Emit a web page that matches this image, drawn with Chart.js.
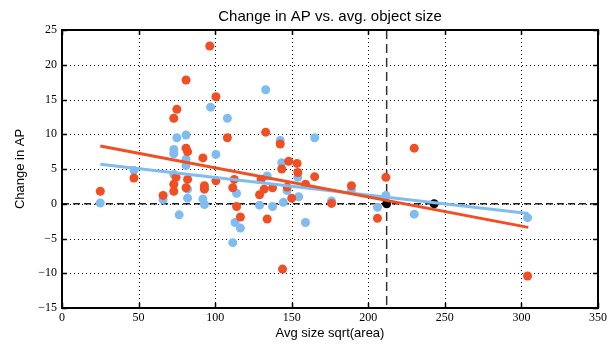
<!DOCTYPE html>
<html>
<head>
<meta charset="utf-8">
<script src="https://cdn.jsdelivr.net/npm/chart.js@4.4.0/dist/chart.umd.min.js"></script>
<style>
  html, body { margin: 0; padding: 0; background: #fff; }
</style>
</head>
<body>
<canvas id="chart" width="610" height="349"></canvas>
<script>
// values
const redPoints = [
  [25, 1.8], [47, 3.7], [66, 1.2], [73, 1.8], [73, 2.8], [74.5, 3.8], [73, 12.3], [75, 13.6],
  [81, 17.8], [81, 8.0], [82, 7.5], [81, 2.3], [82, 3.5], [92, 6.6], [96.5, 22.7], [100.5, 15.4],
  [108, 9.5], [93, 2.6], [93, 2.1], [100.5, 3.3], [111.5, 2.3], [112.5, 3.5], [114, -0.4],
  [116.5, -1.9], [129, 1.3], [132, 2.1], [130, 3.5], [133, 10.3], [134, -2.2], [137.5, 2.3],
  [142.5, 8.6], [143.5, 5.0], [144, -9.4], [147, 2.4], [148, 6.1], [150, 0.8], [153.5, 5.8],
  [154, 4.5], [159, 2.8], [165, 3.9], [176, 0.05], [189, 2.6], [206, -2.1], [211.5, 3.8],
  [230, 8.0], [304, -10.4]
];
const bluePoints = [
  [25, 0.1], [47, 4.8], [66, 0.6], [76.5, -1.6], [73, 4.2], [73, 7.8], [73, 7.2], [75, 9.5],
  [81, 9.9], [81, 6.4], [81, 5.5], [82, 0.8], [82, 2.1], [92, 0.7], [93, -0.1], [93, 2.2],
  [97, 13.9], [100.5, 7.1], [108, 12.3], [111.5, -5.6], [113, -2.7], [114, 1.5], [116.5, -3.5],
  [129, -0.2], [133, 16.4], [134, 4.0], [137.5, -0.4], [142.5, 9.1], [143.5, 5.9], [144.5, 0.2],
  [147, 1.9], [154, 3.8], [154.5, 1.0], [159, -2.7], [165, 9.5], [176, 0.4], [189, 2.0],
  [206, -0.5], [211.5, 1.2], [230, -1.5], [304, -2.0]
];
const blackPoints = [[212, 0], [243, 0]];
const redFit = [[25, 8.3], [304.5, -3.4]];
const blueFit = [[25, 5.7], [304.5, -1.4]];
const xTicks = [0, 50, 100, 150, 200, 250, 300, 350];
const yTicks = [-15, -10, -5, 0, 5, 10, 15, 20, 25];
const refX = 212;
const refY = 0;

const RED = "#f04e23";
const BLUE = "#80bcf0";

const toXY = arr => arr.map(p => ({ x: p[0], y: p[1] }));
const fmt = v => (v < 0 ? "\u2212" + Math.abs(v) : String(v));

// grid, reference lines, frame, inward ticks and titles
const frame = {
  id: "frame",
  beforeDatasetsDraw(chart) {
    const { ctx, chartArea: a, scales: { x, y } } = chart;
    ctx.save();
    ctx.strokeStyle = "#000";
    ctx.lineWidth = 1;
    ctx.setLineDash([1, 3]);
    xTicks.forEach(v => {
      const px = Math.round(x.getPixelForValue(v)) + 0.5;
      ctx.beginPath(); ctx.moveTo(px, a.top); ctx.lineTo(px, a.bottom); ctx.stroke();
    });
    yTicks.forEach(v => {
      const py = Math.round(y.getPixelForValue(v)) + 0.5;
      ctx.beginPath(); ctx.moveTo(a.left, py); ctx.lineTo(a.right, py); ctx.stroke();
    });
    // dashed reference lines
    ctx.lineWidth = 1.5;
    ctx.strokeStyle = "#222";
    ctx.setLineDash([7, 4]);
    const y0 = y.getPixelForValue(refY);
    ctx.beginPath(); ctx.moveTo(a.left, y0); ctx.lineTo(a.right, y0); ctx.stroke();
    ctx.strokeStyle = "#333";
    ctx.setLineDash([9, 5]);
    const x0 = x.getPixelForValue(refX);
    ctx.beginPath(); ctx.moveTo(x0, a.top); ctx.lineTo(x0, a.bottom); ctx.stroke();
    ctx.restore();
  },
  afterDraw(chart) {
    const { ctx, chartArea: a, scales: { x, y } } = chart;
    ctx.save();
    ctx.strokeStyle = "#000";
    ctx.lineWidth = 1.5;
    const t = 5;
    xTicks.forEach(v => {
      const px = Math.round(x.getPixelForValue(v)) + 0.5;
      ctx.beginPath(); ctx.moveTo(px, a.bottom); ctx.lineTo(px, a.bottom - t); ctx.stroke();
      ctx.beginPath(); ctx.moveTo(px, a.top); ctx.lineTo(px, a.top + t); ctx.stroke();
    });
    yTicks.forEach(v => {
      const py = Math.round(y.getPixelForValue(v)) + 0.5;
      ctx.beginPath(); ctx.moveTo(a.left, py); ctx.lineTo(a.left + t, py); ctx.stroke();
      ctx.beginPath(); ctx.moveTo(a.right, py); ctx.lineTo(a.right - t, py); ctx.stroke();
    });
    ctx.lineWidth = 2;
    ctx.strokeRect(a.left, a.top, a.right - a.left, a.bottom - a.top);

    ctx.fillStyle = "#000";
    ctx.textAlign = "center";
    ctx.textBaseline = "middle";
    const cx = (a.left + a.right) / 2;
    ctx.font = "15px 'Liberation Sans', Arial, sans-serif";
    ctx.fillText("Change in AP vs. avg. object size", cx, 17);
    ctx.font = "13px 'Liberation Sans', Arial, sans-serif";
    ctx.fillText("Avg size sqrt(area)", cx, 333);
    ctx.translate(20, (a.top + a.bottom) / 2);
    ctx.rotate(-Math.PI / 2);
    ctx.fillText("Change in AP", 0, 0);
    ctx.restore();
  }
};

const tickFont = { family: "'Liberation Serif', 'Times New Roman', serif", size: 12 };

new Chart(document.getElementById("chart"), {
  type: "scatter",
  data: {
    datasets: [
      { type: "line", data: toXY(redFit), borderColor: RED, borderWidth: 3, pointRadius: 0, order: 0 },
      { type: "line", data: toXY(blueFit), borderColor: BLUE, borderWidth: 3, pointRadius: 0, order: 1 },
      { data: toXY(blackPoints), backgroundColor: "#000", pointRadius: 4.5, pointBorderWidth: 0, order: 2 },
      { data: toXY(redPoints), backgroundColor: RED, pointRadius: 4.5, pointBorderWidth: 0, order: 3 },
      { data: toXY(bluePoints), backgroundColor: BLUE, pointRadius: 4.5, pointBorderWidth: 0, order: 4 }
    ]
  },
  options: {
    responsive: false,
    animation: false,
    events: [],
    layout: { padding: { left: 0, right: 10, top: 30, bottom: 0 } },
    plugins: { legend: { display: false }, tooltip: { enabled: false } },
    scales: {
      x: {
        type: "linear",
        min: 0, max: 350,
        afterBuildTicks: s => { s.ticks = xTicks.map(v => ({ value: v })); },
        afterFit: s => { s.height = 41; },
        grid: { display: false, drawTicks: false },
        border: { display: false },
        ticks: { font: tickFont, color: "#000", padding: 3, maxRotation: 0, callback: fmt }
      },
      y: {
        type: "linear",
        min: -15, max: 25,
        afterBuildTicks: s => { s.ticks = yTicks.map(v => ({ value: v })); },
        afterFit: s => { s.width = 62; },
        grid: { display: false, drawTicks: false },
        border: { display: false },
        ticks: { font: tickFont, color: "#000", padding: 5, callback: fmt }
      }
    }
  },
  plugins: [frame]
});
</script>
</body>
</html>
